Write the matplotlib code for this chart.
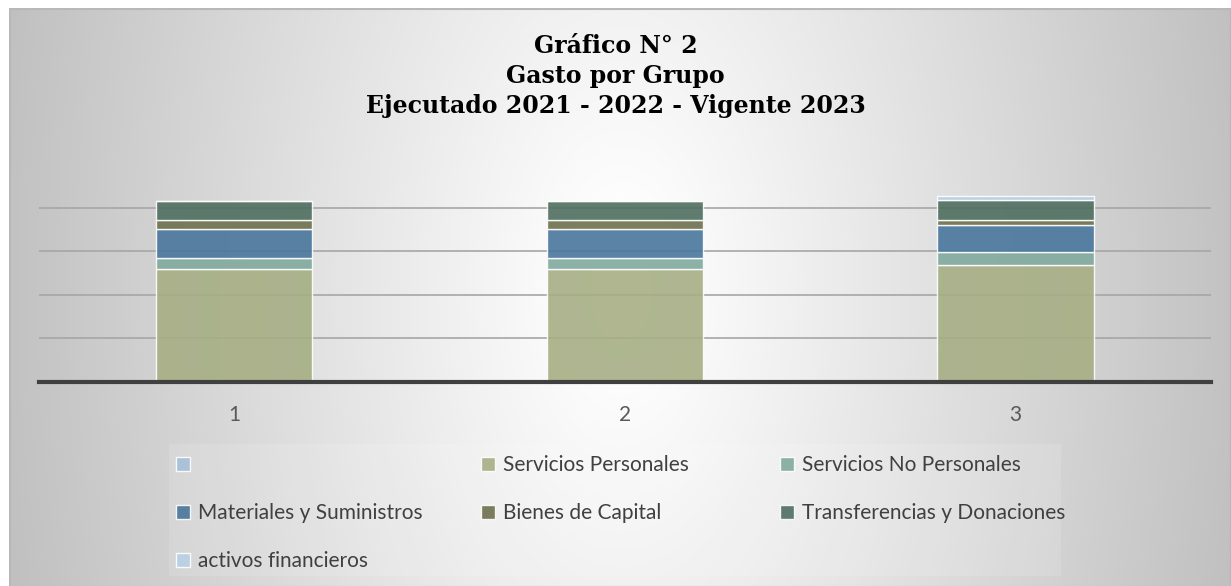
import numpy as np
import matplotlib
matplotlib.use("Agg")
import matplotlib.pyplot as plt

# ---- data ----
categories = ["1", "2", "3"]
series_names = ["", "Servicios Personales", "Servicios No Personales",
                "Materiales y Suministros", "Bienes de Capital",
                "Transferencias y Donaciones", "activos financieros"]
blank_vals = [0.0, 0.0, 0.0]
serv_personales = [2.59, 2.60, 2.70]
serv_no_personales = [0.25, 0.25, 0.29]
materiales = [0.67, 0.66, 0.61]
bienes_capital = [0.21, 0.21, 0.13]
transferencias = [0.45, 0.45, 0.46]
activos_fin = [0.0, 0.0, 0.08]

colors = ["#a5c0d8", "#a6ae84", "#80a99d", "#49769d", "#6d714d", "#4f6e60", "#b8d0e6"]

W, H = 1231, 586
fig = plt.figure(figsize=(W / 100, H / 100), dpi=100)
fig.patch.set_facecolor("white")

# background frame with radial gradient
fx0, fy0 = 9, 8
bg = fig.add_axes([fx0 / W, 0, (W - fx0) / W, (H - fy0) / H], zorder=0)
xx, yy = np.meshgrid(np.arange(W - fx0), np.arange(H - fy0))
dx = (xx - 612) / 611.0
dy = (yy - 280) / 1100.0
t = np.sqrt(dx ** 2 + dy ** 2)
c = 255 - 64 * np.clip(t - 0.05, 0, None)
c = np.clip(c, 0, 255) / 255.0
bg.imshow(np.dstack([c, c, c]), aspect="auto", interpolation="bilinear")
bg.set_axis_off()
bg.add_patch(plt.Rectangle((0, 0), W - fx0 - 1, H - fy0, fill=False,
                           edgecolor="#b8b8b8", lw=1.5))

# plot axes
ax_left, ax_right = 38.5, 1211
ax_bot_px = 381.7
ymax = 4.35
ppu = 43.4
ax_top_px = ax_bot_px - ymax * ppu
ax = fig.add_axes([ax_left / W, 1 - ax_bot_px / H, (ax_right - ax_left) / W,
                   (ax_bot_px - ax_top_px) / H], zorder=1)
ax.patch.set_alpha(0)

x = np.arange(len(categories))
stack = [blank_vals, serv_personales, serv_no_personales, materiales,
         bienes_capital, transferencias, activos_fin]
bottom = np.zeros(len(categories))
handles = []
for name, vals, col in zip(series_names, stack, colors):
    vals = np.array(vals)
    b = ax.bar(x, vals, 0.4, bottom=bottom, color=col, alpha=0.9,
               edgecolor=(1, 1, 1, 0.55), linewidth=1.0, label=name if name else " ", zorder=2)
    handles.append(b)
    bottom += vals

ax.set_xlim(-0.5, 2.5)
ax.set_ylim(0, ymax)
ax.set_yticks([1, 2, 3, 4])
ax.yaxis.grid(True, color="#a6a6a6", lw=1.2, zorder=1)
ax.set_axisbelow(True)
ax.tick_params(axis="y", left=False, labelleft=False)
ax.set_xticks(x)
ax.set_xticklabels(categories, fontsize=15, color="#595959", family="Lato")
ax.tick_params(axis="x", length=0, pad=17)
for s in ["top", "right", "left"]:
    ax.spines[s].set_visible(False)
ax.spines["bottom"].set_color("#404040")
ax.spines["bottom"].set_linewidth(3)
ax.spines["bottom"].set_zorder(5)

# title
fig.text(0.5, 1 - 76 / H, "Gráfico N° 2\nGasto por Grupo\nEjecutado 2021 - 2022 - Vigente 2023",
         ha="center", va="center", fontsize=17, fontweight="bold",
         family="DejaVu Serif", color="black", linespacing=1.3)

# legend background
fig.patches.append(plt.Rectangle((169 / W, 1 - 576 / H), (1061 - 169) / W, (576 - 444) / H,
                                 transform=fig.transFigure, facecolor=(1, 1, 1, 0.12),
                                 edgecolor="none", zorder=1))

# legend: three equal-width columns, row-major
columns = [[0, 3, 6], [1, 4], [2, 5]]
col_x = [176, 481, 780]
for idxs, cx in zip(columns, col_x):
    lg = fig.legend([handles[i] for i in idxs],
                    [series_names[i] if series_names[i] else " " for i in idxs],
                    ncol=1, loc="upper left", bbox_to_anchor=(cx / W, 1 - 455 / H),
                    frameon=False, prop={"family": "Lato", "size": 15},
                    handlelength=0.65, handleheight=0.65, handletextpad=0.42,
                    labelspacing=1.35, borderpad=0, borderaxespad=0)
    for txt in lg.get_texts():
        txt.set_color("#404040")

fig.savefig("out.png", dpi=100)
